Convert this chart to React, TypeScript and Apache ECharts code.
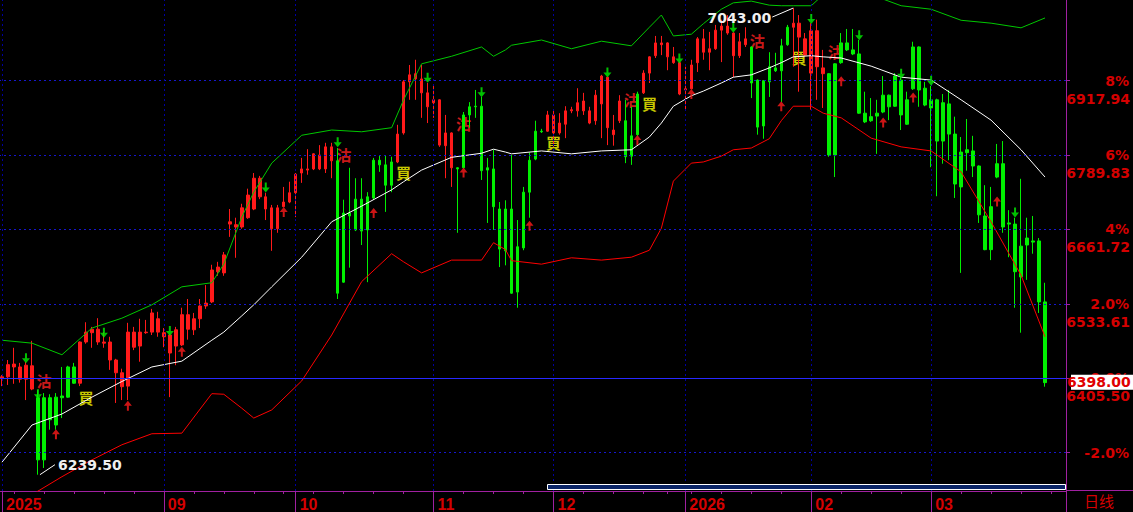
import { useEffect, useRef } from 'react';
import * as echarts from 'echarts';

// ---------- calendar ----------
const FIRST_DAY = '2025-07-24';
const HOLIDAYS = ['2025-12-25', '2026-01-01'];
const BAR_COUNT = 175;
const PAD_BARS = 3;

function buildTradingDays(first: string, count: number, holidays: string[]): string[] {
  const out: string[] = [];
  const d = new Date(first + 'T00:00:00Z');
  while (out.length < count) {
    const wd = d.getUTCDay();
    const s = d.toISOString().slice(0, 10);
    if (wd !== 0 && wd !== 6 && holidays.indexOf(s) < 0) out.push(s);
    d.setUTCDate(d.getUTCDate() + 1);
  }
  return out;
}
const DATES = buildTradingDays(FIRST_DAY, BAR_COUNT + PAD_BARS, HOLIDAYS);

const MONTH_TICK_IDX = [0, 27, 49, 72, 92, 114, 135, 155];
const MONTH_TICK_TEXT = ['2025', '09', '10', '11', '12', '2026', '02', '03'];

// ---------- candles: [open, close, low, high] ----------
const OHLC: number[][] = [
  [6406, 6408, 6392, 6411], [6408, 6429, 6394, 6437], [6425, 6430, 6396, 6458], [6404, 6425, 6398, 6432], [6404, 6428, 6368, 6434],
  [6387, 6427, 6385, 6470], [6372, 6265, 6239.5, 6385], [6372, 6265, 6251, 6380], [6372, 6334, 6317, 6378], [6373, 6325, 6317, 6380],
  [6375, 6372, 6337, 6425], [6425, 6373, 6372, 6427], [6425, 6397, 6396, 6432], [6397, 6468, 6392, 6469], [6468, 6485, 6465, 6502],
  [6484, 6490, 6458, 6494], [6468, 6490, 6463, 6509], [6466, 6468, 6458, 6485], [6437, 6468, 6420, 6477], [6415, 6437, 6363, 6439],
  [6391, 6415, 6368, 6422], [6392, 6485, 6368, 6501], [6459, 6485, 6454, 6494], [6461, 6485, 6434, 6508], [6484, 6485, 6482, 6506],
  [6485, 6518, 6480, 6525], [6485, 6508, 6477, 6520], [6477, 6484, 6459, 6492], [6449, 6480, 6373, 6481], [6461, 6489, 6428, 6494],
  [6463, 6515, 6461, 6527], [6490, 6515, 6472, 6542], [6489, 6508, 6480, 6518], [6508, 6530, 6492, 6542], [6530, 6535, 6525, 6566],
  [6537, 6592, 6535, 6601], [6589, 6597, 6582, 6606], [6587, 6618, 6582, 6623], [6671, 6675, 6649, 6697], [6666, 6670, 6613, 6682],
  [6666, 6699, 6663, 6706], [6682, 6721, 6680, 6732], [6697, 6750, 6695, 6759], [6718, 6750, 6714, 6754], [6697, 6718, 6678, 6725],
  [6663, 6699, 6625, 6704], [6663, 6699, 6656, 6704], [6701, 6709, 6700, 6735], [6709, 6725, 6707, 6744], [6725, 6757, 6683, 6759],
  [6759, 6766, 6742, 6785], [6764, 6766, 6756, 6800], [6766, 6792, 6764, 6793], [6766, 6790, 6764, 6807], [6766, 6804, 6759, 6811],
  [6780, 6804, 6750, 6811], [6780, 6552, 6542, 6802], [6690, 6571, 6570, 6713], [6690, 6685, 6596, 6768], [6714, 6661, 6659, 6750],
  [6714, 6659, 6635, 6750], [6718, 6661, 6571, 6726], [6781, 6716, 6713, 6785], [6781, 6773, 6761, 6790], [6773, 6738, 6692, 6790],
  [6778, 6738, 6726, 6787], [6778, 6826, 6776, 6842], [6828, 6916, 6825, 6919], [6916, 6928, 6885, 6945], [6921, 6930, 6885, 6954],
  [6897, 6921, 6854, 6945], [6873, 6897, 6845, 6914], [6880, 6885, 6854, 6911], [6807, 6885, 6804, 6886], [6806, 6828, 6750, 6859],
  [6768, 6828, 6735, 6829], [6768, 6766, 6656, 6769], [6859, 6768, 6767, 6864], [6873, 6859, 6837, 6881], [6874, 6873, 6854, 6902],
  [6874, 6763, 6747, 6890], [6768, 6764, 6673, 6785], [6766, 6701, 6661, 6799], [6697, 6628, 6597, 6709], [6697, 6625, 6600, 6712],
  [6697, 6552, 6551, 6790], [6632, 6554, 6527, 6678], [6726, 6630, 6626, 6735], [6781, 6726, 6682, 6794], [6831, 6783, 6781, 6849],
  [6831, 6830, 6828, 6835], [6831, 6859, 6830, 6866], [6828, 6859, 6804, 6866], [6828, 6845, 6825, 6862], [6843, 6866, 6819, 6874],
  [6866, 6868, 6862, 6873], [6866, 6880, 6856, 6905], [6866, 6883, 6859, 6897], [6845, 6866, 6843, 6873], [6849, 6893, 6842, 6902],
  [6878, 6926, 6819, 6928], [6837, 6924, 6807, 6925], [6825, 6833, 6806, 6859], [6849, 6883, 6845, 6893], [6849, 6787, 6776, 6885],
  [6823, 6788, 6773, 6873], [6895, 6825, 6823, 6899], [6897, 6931, 6895, 6936], [6931, 6959, 6914, 6960], [6961, 6983, 6957, 6995],
  [6980, 6983, 6962, 6995], [6959, 6983, 6936, 6984], [6949, 6959, 6947, 6976], [6895, 6949, 6893, 6950], [6902, 6904, 6868, 6942],
  [6904, 6945, 6903, 6954], [6949, 6990, 6933, 6993], [6967, 6990, 6954, 7007], [6967, 6973, 6936, 7002], [6973, 7005, 6971, 7014],
  [7005, 7012, 6950, 7023], [7000, 7012, 6997, 7031], [6961, 7000, 6924, 7001], [6961, 6985, 6957, 7000], [6980, 6990, 6976, 7010],
  [6976, 6914, 6888, 6977], [6919, 6838, 6825, 6920], [6918, 6840, 6818, 6919], [6942, 6916, 6890, 6967], [6940, 6935, 6933, 6966],
  [6978, 6935, 6881, 6990], [7010, 6980, 6978, 7014], [7010, 7017, 6942, 7043], [6993, 7017, 6899, 7031], [6962, 6990, 6961, 7000],
  [6931, 7004, 6868, 7017], [6942, 7004, 6885, 7023], [6930, 6940, 6871, 6971], [6930, 6790, 6787, 6931], [6947, 6790, 6752, 6948],
  [6983, 6949, 6947, 7000], [6983, 6971, 6969, 7007], [6971, 6964, 6962, 7007], [6964, 6862, 6861, 6988], [6862, 6847, 6845, 6899],
  [6856, 6849, 6847, 6888], [6862, 6857, 6792, 6885], [6893, 6864, 6862, 6926], [6893, 6873, 6850, 6894], [6926, 6874, 6873, 6931],
  [6919, 6859, 6833, 6923], [6885, 6843, 6842, 6899], [6976, 6904, 6902, 6985], [6976, 6902, 6873, 6977], [6905, 6876, 6874, 6916],
  [6885, 6871, 6769, 6909], [6885, 6814, 6719, 6887], [6880, 6814, 6775, 6895], [6878, 6826, 6781, 6902], [6826, 6740, 6716, 6856],
  [6795, 6735, 6587, 6821], [6799, 6794, 6763, 6852], [6797, 6771, 6752, 6823], [6771, 6687, 6673, 6772], [6685, 6627, 6626, 6738],
  [6701, 6627, 6609, 6735], [6775, 6752, 6750, 6809], [6775, 6666, 6656, 6814], [6673, 6671, 6614, 6695], [6671, 6589, 6527, 6682],
  [6633, 6580, 6484, 6749], [6647, 6635, 6575, 6682], [6642, 6640, 6620, 6685], [6642, 6537, 6518, 6647], [6537, 6398, 6391, 6570],
];

// ---------- signals ----------
const SELL_AT = [6, 56, 76, 104, 125, 138];
const BUY_AT = [13, 66, 91, 107, 132];
const SELL_TEXT_POS = [[7, 6402], [57, 6790], [77, 6845], [105, 6886], [126, 6988], [139, 6969]];
const BUY_TEXT_POS = [[14, 6373], [67, 6759], [92, 6811], [108, 6878], [133, 6958]];
const DOWN_ARROWS = [
  [4, 6440], [6, 6378], [17, 6484], [28, 6487], [44, 6734], [56, 6812], [71, 6923], [80, 6898],
  [101, 6932], [113, 6956], [122, 7009], [135, 7024], [143, 6996], [150, 6930], [155, 6918], [169, 6691],
];
const UP_ARROWS = [
  [9, 6309], [21, 6358], [30, 6451], [47, 6692], [62, 6690], [77, 6760], [88, 6668],
  [106, 6816], [115, 6895], [130, 6874], [140, 6917], [147, 6846], [152, 6889], [166, 6710],
];

// ---------- Bollinger bands ----------
const BAND_IDX = [0, 5, 10, 15, 20, 25, 30, 35, 37, 40, 42, 45, 50, 55, 60, 65, 67, 70, 75, 80, 82, 84, 85, 90,
  95, 100, 105, 108, 110, 112, 115, 117, 120, 122, 125, 128, 130, 132, 135, 137, 140, 145, 150, 155, 160, 165, 170, 174];
const BAND_UPPER = [6471, 6466, 6446, 6492, 6509, 6532, 6563, 6570, 6602, 6683, 6726, 6776, 6824, 6833, 6830, 6837,
  6885, 6947, 6960, 6976, 6960, 6971, 6979, 6988, 6973, 6986, 6978, 7010, 7031, 6995, 6998, 7016,
  7041, 7052, 7055, 7048, 7047, 7047, 7047, 7066, 7074, 7066, 7047, 7041, 7022, 7017, 7009, 7026];
const BAND_MID = [6261, 6325, 6344, 6373, 6400, 6425, 6435, 6471, 6485, 6513, 6532, 6563, 6614, 6675, 6702, 6730,
  6744, 6764, 6786, 6793, 6800, 6795, 6792, 6797, 6792, 6797, 6799, 6821, 6845, 6874, 6892, 6900,
  6914, 6924, 6928, 6940, 6949, 6959, 6961, 6959, 6957, 6943, 6924, 6919, 6885, 6850, 6799, 6752];
const BAND_LOWER = [6187, 6205, 6236, 6265, 6291, 6310, 6311, 6379, 6378, 6354, 6337, 6351, 6401, 6480, 6572, 6620,
  6606, 6587, 6609, 6609, 6639, 6627, 6608, 6602, 6613, 6609, 6614, 6626, 6664, 6745, 6776, 6778,
  6788, 6799, 6802, 6818, 6849, 6874, 6874, 6862, 6854, 6819, 6804, 6797, 6761, 6675, 6583, 6477];

// ---------- axis levels ----------
const BASE_CLOSE = 6405.5;
const LAST_CLOSE = 6398.0;
const LEVEL_PCT = [8, 6, 4, 2, 0, -2];
const LEVEL_PCT_TEXT = ['8%', '6%', '4%', '2.0%', '0.0%', '-2.0%'];
const PRICE_LABEL_PCT = [8, 6, 4, 2, 0];
const Y_MIN = 6211.4;
const Y_MAX = 7056.9;
const HIGH_MARK = { idx: 132, value: 7043.0 };
const LOW_MARK = { idx: 6, value: 6239.5 };

const LEVELS = LEVEL_PCT.map((p) => +(BASE_CLOSE * (1 + p / 100)).toFixed(2));
const PRICE_LEVELS = PRICE_LABEL_PCT.map((p) => +(BASE_CLOSE * (1 + p / 100)).toFixed(2));

const RED = '#ff1a1a';
const GREEN = '#00f000';
const AXIS_RED = '#d40000';
const PURPLE = '#a020a0';
const DOWN_PATH = 'path://M3,0 L5,0 L5,5 L8,5 L4,10 L0,5 L3,5 Z';
const UP_PATH = 'path://M4,0 L8,5 L5,5 L5,10 L3,10 L3,5 L0,5 Z';

export default function App() {
  const ref = useRef<HTMLDivElement>(null);

  useEffect(() => {
    if (!ref.current) return;
    const chart = echarts.init(ref.current, undefined, { renderer: 'svg' });

    const monthSet = new Set(MONTH_TICK_IDX);
    const mondaySet = new Set<number>();
    DATES.forEach((d, i) => {
      if (new Date(d + 'T00:00:00Z').getUTCDay() === 1) mondaySet.add(i);
    });

    let red = true;
    const candleData = OHLC.map((v, i) => {
      if (SELL_AT.indexOf(i) >= 0) red = false;
      if (BUY_AT.indexOf(i) >= 0) red = true;
      const c = red ? RED : GREEN;
      return {
        value: v,
        itemStyle: { color: c, color0: c, borderColor: c, borderColor0: c, borderColorDoji: c, borderWidth: 1 },
      };
    });

    const pctLabel = (v: number) => {
      const k = LEVELS.findIndex((l) => Math.abs(l - v) < 0.01);
      return k >= 0 ? LEVEL_PCT_TEXT[k] : '';
    };

    const band = (vals: number[]) => BAND_IDX.map((i, k) => [i, vals[k]]);

    const option: any = {
      backgroundColor: '#000',
      animation: false,
      grid: { left: -1, top: 0, width: 1067, height: 491, containLabel: false, outerBoundsMode: 'none' },
      xAxis: [
        {
          type: 'category',
          data: DATES,
          boundaryGap: true,
          axisLine: { show: true, lineStyle: { color: PURPLE, width: 1 } },
          axisTick: {
            show: true,
            interval: (i: number) => monthSet.has(i),
            alignWithLabel: true,
            length: 21,
            lineStyle: { color: PURPLE },
          },
          axisLabel: {
            show: true,
            interval: (i: number) => monthSet.has(i),
            formatter: (_v: string, i: number) => {
              const k = MONTH_TICK_IDX.indexOf(i);
              return k >= 0 ? MONTH_TICK_TEXT[k] : '';
            },
            align: 'left',
            padding: [0, 0, 0, 4],
            margin: 5,
            color: AXIS_RED,
            fontFamily: 'Liberation Sans',
            fontWeight: 'bold',
            fontSize: 16,
          },
          splitLine: { show: false },
        },
        {
          type: 'category',
          data: DATES,
          boundaryGap: true,
          position: 'bottom',
          axisLine: { show: false },
          axisLabel: { show: false },
          axisTick: {
            show: true,
            interval: (i: number) => mondaySet.has(i),
            alignWithLabel: true,
            length: 3,
            lineStyle: { color: PURPLE },
          },
          splitLine: { show: false },
        },
      ],
      yAxis: [
        {
          type: 'value',
          position: 'right',
          min: Y_MIN,
          max: Y_MAX,
          axisLine: { show: true, lineStyle: { color: PURPLE } },
          axisTick: { show: true, customValues: LEVELS, length: 4, lineStyle: { color: PURPLE } },
          axisLabel: {
            show: true,
            customValues: LEVELS,
            formatter: (v: number) => pctLabel(v),
            color: AXIS_RED,
            fontFamily: 'DejaVu Sans',
            fontWeight: 'bold',
            fontSize: 14,
            align: 'right',
            margin: 63,
          },
          splitLine: { show: false },
        },
      ],
      series: [
        {
          type: 'line',
          name: 'refLines',
          z: 1,
          data: [],
          silent: true,
          markLine: {
            silent: true,
            symbol: ['none', 'none'],
            label: { show: false },
            data: [
              ...LEVELS.filter((v) => v !== BASE_CLOSE).map((v) => ({
                yAxis: v,
                lineStyle: { color: '#1616cc', type: [2, 3], width: 1 },
              })),
              { yAxis: BASE_CLOSE, lineStyle: { color: '#2828ff', type: 'solid', width: 1 } },
              ...MONTH_TICK_IDX.map((i) => ({
                xAxis: i,
                lineStyle: { color: '#0000a0', type: [2, 3], width: 1 },
              })),
            ],
          },
        },
        {
          type: 'scatter',
          name: 'sellText',
          z: 2,
          data: SELL_TEXT_POS,
          symbolSize: 1,
          itemStyle: { color: 'rgba(0,0,0,0)' },
          label: {
            show: true,
            position: 'inside',
            formatter: '沽',
            color: '#ff2020',
            fontFamily: 'Noto Sans CJK TC',
            fontWeight: 'bold',
            fontSize: 15,
          },
          silent: true,
        },
        {
          type: 'scatter',
          name: 'buyText',
          z: 2,
          data: BUY_TEXT_POS,
          symbolSize: 1,
          itemStyle: { color: 'rgba(0,0,0,0)' },
          label: {
            show: true,
            position: 'inside',
            formatter: '買',
            color: '#ffff00',
            fontFamily: 'Noto Sans CJK TC',
            fontWeight: 'bold',
            fontSize: 15,
          },
          silent: true,
        },
        {
          type: 'candlestick',
          name: 'K',
          z: 3,
          barWidth: 3,
          data: candleData,
          silent: true,
        },
        {
          type: 'line',
          name: 'upper',
          z: 4,
          data: band(BAND_UPPER),
          symbol: 'none',
          lineStyle: { color: '#00c800', width: 1 },
          silent: true,
        },
        {
          type: 'line',
          name: 'mid',
          z: 4,
          data: band(BAND_MID),
          symbol: 'none',
          lineStyle: { color: '#ffffff', width: 1 },
          silent: true,
        },
        {
          type: 'line',
          name: 'lower',
          z: 4,
          data: band(BAND_LOWER),
          symbol: 'none',
          lineStyle: { color: '#ff0000', width: 1 },
          silent: true,
        },
        {
          type: 'scatter',
          name: 'downArrows',
          z: 5,
          data: DOWN_ARROWS,
          symbol: DOWN_PATH,
          symbolSize: [8, 10],
          itemStyle: { color: GREEN },
          silent: true,
        },
        {
          type: 'scatter',
          name: 'upArrows',
          z: 5,
          data: UP_ARROWS,
          symbol: UP_PATH,
          symbolSize: [8, 10],
          itemStyle: { color: RED },
          silent: true,
        },
      ],
    };

    chart.setOption(option);

    const lp = chart.convertToPixel({ xAxisIndex: 0, yAxisIndex: 0 }, [LOW_MARK.idx, LOW_MARK.value]) as number[];
    const hp = chart.convertToPixel({ xAxisIndex: 0, yAxisIndex: 0 }, [HIGH_MARK.idx, HIGH_MARK.value]) as number[];
    const lastY = chart.convertToPixel({ yAxisIndex: 0 }, LAST_CLOSE) as number;
    const annFont = { fontFamily: 'DejaVu Sans', fontWeight: 'bold', fontSize: 14 };

    const priceLabels = PRICE_LEVELS.map((v) => ({
      type: 'text',
      x: 1130,
      y: (chart.convertToPixel({ yAxisIndex: 0 }, v) as number) + 18,
      style: {
        text: v.toFixed(2),
        fill: AXIS_RED,
        ...annFont,
        textAlign: 'right',
        textVerticalAlign: 'middle',
        align: 'right',
        verticalAlign: 'middle',
      },
      z: 9,
    }));

    chart.setOption({
      graphic: [
        ...priceLabels,
        {
          type: 'line',
          shape: { x1: lp[0] + 2, y1: lp[1], x2: lp[0] + 17, y2: lp[1] - 10 },
          style: { stroke: '#ffffff', lineWidth: 1 },
          z: 10,
        },
        {
          type: 'text',
          x: lp[0] + 20,
          y: lp[1] - 10,
          style: { text: LOW_MARK.value.toFixed(2), fill: '#f0f0f0', ...annFont, textAlign: 'left', textVerticalAlign: 'middle', align: 'left', verticalAlign: 'middle' },
          z: 10,
        },
        {
          type: 'line',
          shape: { x1: hp[0], y1: hp[1], x2: hp[0] - 21, y2: hp[1] + 9 },
          style: { stroke: '#ffffff', lineWidth: 1 },
          z: 10,
        },
        {
          type: 'text',
          x: hp[0] - 22,
          y: hp[1] + 10,
          style: { text: HIGH_MARK.value.toFixed(2), fill: '#f0f0f0', ...annFont, textAlign: 'right', textVerticalAlign: 'middle', align: 'right', verticalAlign: 'middle' },
          z: 10,
        },
        {
          type: 'rect',
          shape: { x: 1071, y: lastY - 8, width: 62, height: 15 },
          style: { fill: '#ffffff' },
          z: 10,
        },
        {
          type: 'text',
          x: 1067,
          y: lastY - 0.5,
          style: { text: LAST_CLOSE.toFixed(2), fill: '#e00000', ...annFont, textAlign: 'left', textVerticalAlign: 'middle', align: 'left', verticalAlign: 'middle' },
          z: 11,
        },
        {
          type: 'rect',
          shape: { x: 547.5, y: 484.5, width: 518, height: 5 },
          style: { fill: '#0a2466', stroke: '#ffffff', lineWidth: 1 },
          z: 10,
        },
        {
          type: 'line',
          shape: { x1: 1066.5, y1: 490, x2: 1066.5, y2: 512 },
          style: { stroke: PURPLE, lineWidth: 1 },
          z: 10,
        },
        {
          type: 'line',
          shape: { x1: 1066, y1: 490.5, x2: 1133, y2: 490.5 },
          style: { stroke: PURPLE, lineWidth: 1 },
          z: 10,
        },
        {
          type: 'text',
          x: 1099,
          y: 500,
          style: { text: '日线', fill: AXIS_RED, fontFamily: 'Noto Sans CJK SC', fontSize: 15, textAlign: 'center', textVerticalAlign: 'middle', align: 'center', verticalAlign: 'middle' },
          z: 10,
        },
      ],
    });

    return () => {
      chart.dispose();
    };
  }, []);

  return (
    <div
      ref={ref}
      style={{ position: 'fixed', left: 0, top: 0, width: 1133, height: 512, background: '#000' }}
    />
  );
}
